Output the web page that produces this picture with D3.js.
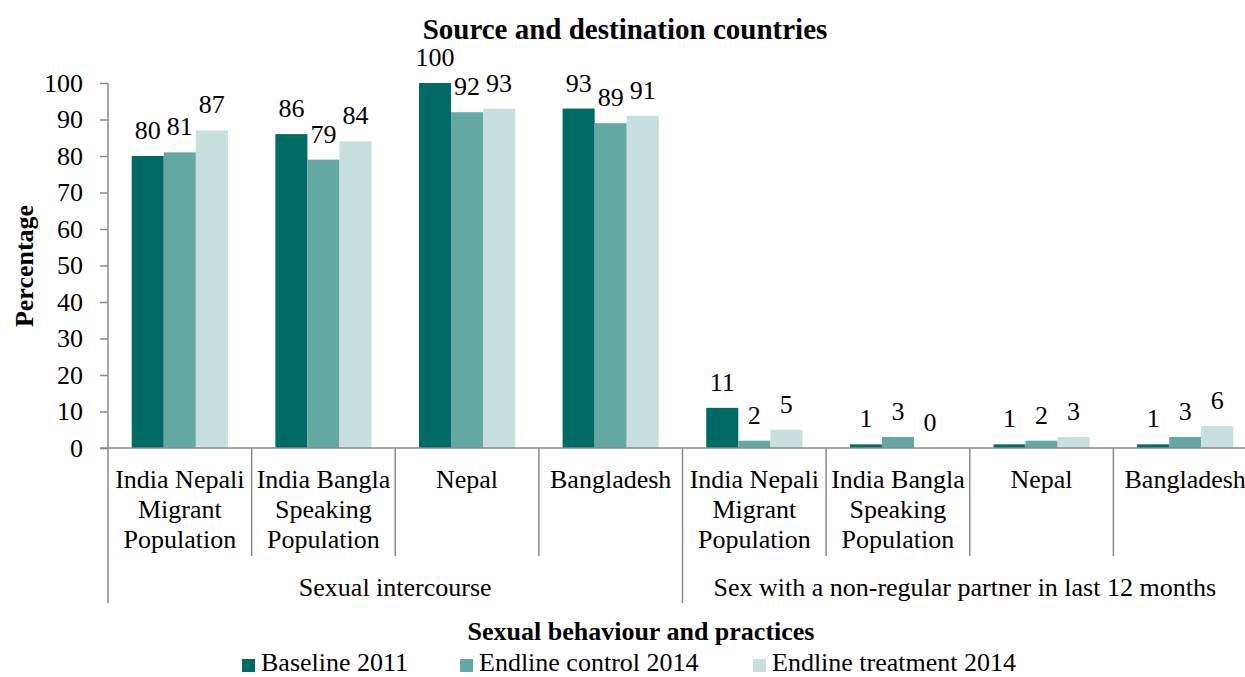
<!DOCTYPE html>
<html><head><meta charset="utf-8">
<script src="https://cdn.jsdelivr.net/npm/d3@7"></script>
</head><body style="margin:0;background:#fff">
<svg id="chart" width="1245" height="677"></svg>
<script>
// ---- data ----
const chartTitle = "Source and destination countries";
const yTitle = "Percentage";
const xTitle = "Sexual behaviour and practices";
const groups = ["Sexual intercourse", "Sex with a non-regular partner in last 12 months"];
const subCategories = [
  ["India Nepali", "Migrant", "Population"],
  ["India Bangla", "Speaking", "Population"],
  ["Nepal"],
  ["Bangladesh"]
];
const seriesNames = ["Baseline 2011", "Endline control 2014", "Endline treatment 2014"];
const baseline  = [80, 86, 100, 93, 11, 1, 1, 1];
const control   = [81, 79, 92, 89, 2, 3, 2, 3];
const treatment = [87, 84, 93, 91, 5, 0, 3, 6];
const yTicks = [0, 10, 20, 30, 40, 50, 60, 70, 80, 90, 100];
const colors = ["#006b64", "#64a8a4", "#c7dfdd"];

// ---- build ----
const seriesValues = [baseline, control, treatment];
const cats = [];
groups.forEach((g, gi) => subCategories.forEach((s, si) => cats.push({id: gi + "-" + si, g: gi, lines: s})));

const FONT = '"Liberation Serif", "Times New Roman", Times, serif';
const svg = d3.select("#chart").style("font-family", FONT);
const mLeft = 108, mRight = 1257, mTop = 83, mBottom = 448;
const axisColor = "#898989";
const fs = 26;

const x0 = d3.scaleBand().domain(cats.map(c => c.id)).range([mLeft, mRight]).paddingInner(0).paddingOuter(0);
const x1 = d3.scaleBand().domain(seriesNames).range([0, x0.bandwidth()]).paddingInner(0).paddingOuter(0.74);
const y = d3.scaleLinear().domain([0, 100]).range([mBottom, mTop]);

// bars
const gCats = svg.append("g").selectAll("g").data(cats).join("g")
  .attr("transform", c => `translate(${x0(c.id)},0)`);
seriesNames.forEach((s, si) => {
  gCats.append("rect")
    .attr("x", x1(s))
    .attr("width", x1.bandwidth())
    .attr("y", (c, i) => y(seriesValues[si][i]))
    .attr("height", (c, i) => y(0) - y(seriesValues[si][i]))
    .attr("fill", colors[si]);
  gCats.append("text")
    .attr("x", x1(s) + x1.bandwidth() / 2)
    .attr("y", (c, i) => y(seriesValues[si][i]) - 17)
    .attr("text-anchor", "middle")
    .style("font-size", fs + "px")
    .text((c, i) => seriesValues[si][i]);
});

// y axis
const yAxis = svg.append("g").attr("transform", `translate(${mLeft},0)`)
  .call(d3.axisLeft(y).tickValues(yTicks).tickSize(8).tickPadding(17));
yAxis.attr("font-family", null).attr("font-size", null);
yAxis.select(".domain").attr("stroke", axisColor).attr("stroke-width", 1.5).attr("d", `M0,${mTop}V${mBottom}`);
yAxis.selectAll(".tick line").attr("stroke", axisColor).attr("stroke-width", 1.5);
yAxis.selectAll(".tick text").style("font-size", fs + "px").attr("fill", "#000");

// x baseline
svg.append("line").attr("x1", mLeft - 8).attr("x2", mRight).attr("y1", y(0)).attr("y2", y(0))
  .attr("stroke", axisColor).attr("stroke-width", 1.5);

// separators
cats.forEach((c, i) => {
  const xs = x0(c.id);
  const outer = i % subCategories.length === 0;
  svg.append("line").attr("x1", xs).attr("x2", xs).attr("y1", y(0)).attr("y2", outer ? 603 : 556)
    .attr("stroke", axisColor).attr("stroke-width", 1.5);
});
svg.append("line").attr("x1", mRight).attr("x2", mRight).attr("y1", y(0)).attr("y2", 603)
  .attr("stroke", axisColor).attr("stroke-width", 1.5);

// category labels
cats.forEach(c => {
  const cx = x0(c.id) + x0.bandwidth() / 2;
  const t = svg.append("text").attr("text-anchor", "middle").style("font-size", fs + "px")
    .attr("x", cx).attr("y", 488);
  c.lines.forEach((l, li) => t.append("tspan").attr("x", cx).attr("dy", li ? 30 : 0).text(l));
});
// group labels
groups.forEach((g, gi) => {
  const ids = cats.filter(c => c.g === gi).map(c => c.id);
  const xa = x0(ids[0]), xb = x0(ids[ids.length - 1]) + x0.bandwidth();
  svg.append("text").attr("text-anchor", "middle").style("font-size", fs + "px")
    .attr("x", (xa + xb) / 2 - (gi === 1 ? 5 : 0)).attr("y", 596).text(g);
});

// titles
svg.append("text").attr("x", 625).attr("y", 39).attr("text-anchor", "middle")
  .style("font-size", "29px").style("font-weight", "bold").text(chartTitle);
svg.append("text").attr("x", 641).attr("y", 640).attr("text-anchor", "middle")
  .style("font-size", "26px").style("font-weight", "bold").text(xTitle);
svg.append("text").attr("transform", "translate(33,266) rotate(-90)").attr("text-anchor", "middle")
  .style("font-size", "26px").style("font-weight", "bold").text(yTitle);

// legend
const legendX = [242, 460, 753];
seriesNames.forEach((s, i) => {
  svg.append("rect").attr("x", legendX[i]).attr("y", 659).attr("width", 13).attr("height", 13).attr("fill", colors[i]);
  svg.append("text").attr("x", legendX[i] + 19).attr("y", 671).style("font-size", fs + "px").text(s);
});
svg.selectAll("text").style("font-family", FONT);
</script>
</body></html>
